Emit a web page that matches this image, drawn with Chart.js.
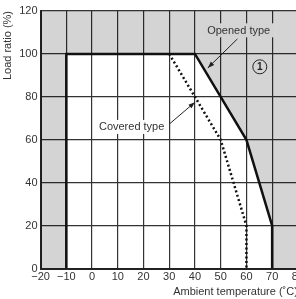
<!DOCTYPE html>
<html>
<head>
<meta charset="utf-8">
<script src="https://cdn.jsdelivr.net/npm/chart.js@4/dist/chart.umd.min.js"></script>
<style>
  html, body { margin: 0; padding: 0; background: #fff; overflow: hidden; }
  #wrap { width: 296px; height: 299px; overflow: hidden; }
</style>
</head>
<body>
<div id="wrap"><canvas id="chart" width="306" height="299"></canvas></div>
<script>
// Derating curves
const openedTemp = [-10, -10, 40, 60, 70, 70];
const openedLoad = [0, 100, 100, 60, 20, 0];
const coveredTemp = [30, 50, 60, 60];
const coveredLoad = [100, 60, 20, 0];

// Tick labels
const xTicks = [-20, -10, 0, 10, 20, 30, 40, 50, 60, 70, 80];
const yTicks = [0, 20, 40, 60, 80, 100, 120];

const toPoints = (xs, ys) => xs.map((x, i) => ({ x: x, y: ys[i] }));

// Shaded (out of range) area: everything above the opened-type curve
const shadePoints = [{ x: xTicks[0], y: 0 }]
    .concat(toPoints(openedTemp, openedLoad))
    .concat([{ x: xTicks[xTicks.length - 1], y: 0 }]);

const fontFamily = '"Liberation Sans", Arial, sans-serif';

// Notes drawn on top of the plot: labels, arrows and the circled 1
const notesPlugin = {
    id: 'notes',
    afterDatasetsDraw(chart) {
        const ctx = chart.ctx;
        const xs = chart.scales.x, ys = chart.scales.y;
        const px = v => xs.getPixelForValue(v);
        const py = v => ys.getPixelForValue(v);

        function label(text, x, y, bg) {
            ctx.save();
            ctx.font = '11px ' + fontFamily;
            const w = ctx.measureText(text).width;
            ctx.fillStyle = bg;
            ctx.fillRect(px(x) - w / 2 - 4, py(y) - 7, w + 8, 14);
            ctx.fillStyle = '#333';
            ctx.textAlign = 'center';
            ctx.textBaseline = 'middle';
            ctx.fillText(text, px(x), py(y) + 0.5);
            ctx.restore();
        }

        function arrow(x1, y1, x2, y2) {
            const ax = px(x1), ay = py(y1), bx = px(x2), by = py(y2);
            const ang = Math.atan2(by - ay, bx - ax);
            ctx.save();
            ctx.strokeStyle = '#222';
            ctx.fillStyle = '#222';
            ctx.lineWidth = 1;
            ctx.beginPath();
            ctx.moveTo(ax, ay);
            ctx.lineTo(bx, by);
            ctx.stroke();
            ctx.beginPath();
            ctx.moveTo(bx, by);
            ctx.lineTo(bx - 7 * Math.cos(ang - 0.35), by - 7 * Math.sin(ang - 0.35));
            ctx.lineTo(bx - 7 * Math.cos(ang + 0.35), by - 7 * Math.sin(ang + 0.35));
            ctx.closePath();
            ctx.fill();
            ctx.restore();
        }

        label('Opened type', 57, 111, '#d3d3d3');
        arrow(56.5, 107, 45, 93.5);
        label('Covered type', 15.4, 66, '#ffffff');
        arrow(30.2, 67.5, 40, 77.5);

        // circled 1
        ctx.save();
        ctx.beginPath();
        ctx.arc(px(65.2), py(94), 7, 0, Math.PI * 2);
        ctx.lineWidth = 1;
        ctx.strokeStyle = '#222';
        ctx.stroke();
        ctx.fillStyle = '#222';
        ctx.font = 'bold 10px ' + fontFamily;
        ctx.textAlign = 'center';
        ctx.textBaseline = 'middle';
        ctx.fillText('1', px(65.2), py(94) + 0.5);
        ctx.restore();
    }
};

const ctx = document.getElementById('chart').getContext('2d');
const chart = new Chart(ctx, {
    type: 'line',
    data: {
        datasets: [
            {
                label: 'Opened type',
                data: toPoints(openedTemp, openedLoad),
                borderColor: '#111',
                borderWidth: 2.5,
                pointRadius: 0,
                fill: false
            },
            {
                label: 'Covered type',
                data: toPoints(coveredTemp, coveredLoad),
                borderColor: '#111',
                borderWidth: 2.5,
                borderDash: [2, 2.5],
                pointRadius: 0,
                fill: false
            },
            {
                label: 'shade',
                data: shadePoints,
                borderWidth: 0,
                pointRadius: 0,
                backgroundColor: 'rgba(0,0,0,0.17)',
                fill: 'end'
            }
        ]
    },
    options: {
        responsive: false,
        animation: false,
        layout: { padding: { top: 11, left: 1, right: 0, bottom: 0 } },
        plugins: {
            legend: { display: false },
            tooltip: { enabled: false }
        },
        scales: {
            x: {
                type: 'linear',
                min: xTicks[0],
                max: xTicks[xTicks.length - 1],
                afterBuildTicks: axis => { axis.ticks = xTicks.map(v => ({ value: v })); },
                grid: { color: '#333', lineWidth: 1.2, drawTicks: false },
                border: { color: '#222', width: 2 },
                ticks: {
                    color: '#333',
                    padding: 2,
                    maxRotation: 0,
                    font: { family: fontFamily, size: 11 },
                    callback: v => String(v).replace('-', '\u2212')
                },
                title: {
                    display: true,
                    text: 'Ambient temperature (\u02daC)',
                    align: 'end',
                    color: '#333',
                    padding: { top: 0, bottom: 0 },
                    font: { family: fontFamily, size: 11 }
                }
            },
            y: {
                type: 'linear',
                min: yTicks[0],
                max: yTicks[yTicks.length - 1],
                afterBuildTicks: axis => { axis.ticks = yTicks.map(v => ({ value: v })); },
                grid: { color: '#333', lineWidth: 1.2, drawTicks: false },
                border: { color: '#222', width: 2 },
                ticks: {
                    color: '#333',
                    padding: 3,
                    font: { family: fontFamily, size: 11 }
                },
                title: {
                    display: true,
                    text: 'Load ratio (%)',
                    align: 'end',
                    color: '#333',
                    padding: { top: 0, bottom: 2 },
                    font: { family: fontFamily, size: 11 }
                }
            }
        }
    },
    plugins: [notesPlugin]
});
</script>
</body>
</html>
